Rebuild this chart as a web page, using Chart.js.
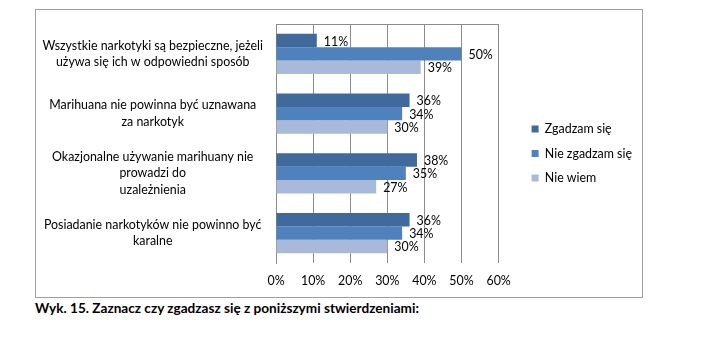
<!DOCTYPE html>
<html>
<head>
<meta charset="utf-8">
<script src="https://cdn.jsdelivr.net/npm/chart.js@4"></script>
<style>
  html, body { margin: 0; padding: 0; background: #fff; }
  body { width: 713px; height: 361px; position: relative; overflow: hidden; }
  #box { position: absolute; left: 35px; top: 9px; width: 606px; height: 287px; border: 1px solid #a0a0a0; }
  #box canvas { display: block; }
  #caption { position: absolute; left: 35px; top: 300px; font: bold 13.6px Lato, "Liberation Sans", sans-serif; color: #000; white-space: nowrap; }
</style>
</head>
<body>
<div id="box"><canvas id="c" width="606" height="287"></canvas></div>
<div id="caption">Wyk. 15. Zaznacz czy zgadzasz się z poniższymi stwierdzeniami:</div>
<script>
const categories = [
  ["Wszystkie narkotyki są bezpieczne, jeżeli", "używa się ich w odpowiedni sposób"],
  ["Marihuana nie powinna być uznawana", "za narkotyk"],
  ["Okazjonalne używanie marihuany nie", "prowadzi do", "uzależnienia"],
  ["Posiadanie narkotyków nie powinno być", "karalne"]
];
const seriesNames = ["Zgadzam się", "Nie zgadzam się", "Nie wiem"];
const agree = [11, 36, 38, 36];
const disagree = [50, 34, 35, 34];
const dontKnow = [39, 30, 27, 30];
const xTicks = [0, 10, 20, 30, 40, 50, 60];
const colors = ["#40699c", "#4f81bd", "#a9b9da"];

const FONT = "Lato";
const FS = 12.4;

const valueLabels = {
  id: 'valueLabels',
  afterDatasetsDraw(chart) {
    const ctx = chart.ctx;
    ctx.save();
    ctx.font = FS + 'px ' + FONT;
    ctx.fillStyle = '#000';
    ctx.textBaseline = 'middle';
    ctx.textAlign = 'left';
    chart.data.datasets.forEach((ds, i) => {
      chart.getDatasetMeta(i).data.forEach((bar, j) => {
        ctx.fillText(ds.data[j] + '%', bar.x + 7, bar.y + 1);
      });
    });
    ctx.restore();
  }
};

// leave a gap between the plot area and the legend, as in the reference
const legendGap = {
  id: 'legendGap',
  afterLayout(chart) {
    const lg = chart.legend;
    if (lg) { lg.left += 21; lg.right += 21; }
  }
};

new Chart(document.getElementById('c'), {
  type: 'bar',
  data: {
    labels: categories,
    datasets: [
      { label: seriesNames[0], data: agree, backgroundColor: colors[0] },
      { label: seriesNames[1], data: disagree, backgroundColor: colors[1] },
      { label: seriesNames[2], data: dontKnow, backgroundColor: colors[2] }
    ]
  },
  options: {
    indexAxis: 'y',
    responsive: false,
    animation: false,
    devicePixelRatio: 1,
    layout: { padding: { left: 0, top: 0, bottom: 0, right: 21 } },
    datasets: { bar: { barPercentage: 1, categoryPercentage: 0.67 } },
    scales: {
      x: {
        min: xTicks[0], max: xTicks[xTicks.length - 1],
        afterBuildTicks(scale) { scale.ticks = xTicks.map(v => ({ value: v })); },
        afterFit(scale) { scale.height = 34; scale.paddingLeft = 0; scale.paddingRight = 0; },
        grid: { color: '#8c8c8c', drawTicks: false },
        border: { display: false },
        ticks: { padding: 11, color: '#000', font: { family: FONT, size: FS }, callback: v => v + '%' }
      },
      x2: {
        type: 'linear', position: 'top', min: 0, max: 60,
        afterFit(scale) { scale.height = 14; scale.paddingLeft = 0; scale.paddingRight = 0; },
        grid: { display: false, drawTicks: false },
        border: { display: true, color: '#8c8c8c' },
        ticks: { display: false }
      },
      y: {
        afterFit(scale) { scale.width = 240; scale.paddingTop = 0; scale.paddingBottom = 0; },
        grid: { display: false, drawTicks: false },
        border: { display: true, color: '#8c8c8c' },
        ticks: { padding: 13, crossAlign: 'center', color: '#000', font: { family: FONT, size: FS, lineHeight: 1.33 } }
      }
    },
    plugins: {
      legend: {
        position: 'right',
        labels: { boxWidth: 7, boxHeight: 7, padding: 12, color: '#000', font: { family: FONT, size: FS } }
      },
      tooltip: { enabled: false }
    }
  },
  plugins: [valueLabels, legendGap]
});
</script>
</body>
</html>
